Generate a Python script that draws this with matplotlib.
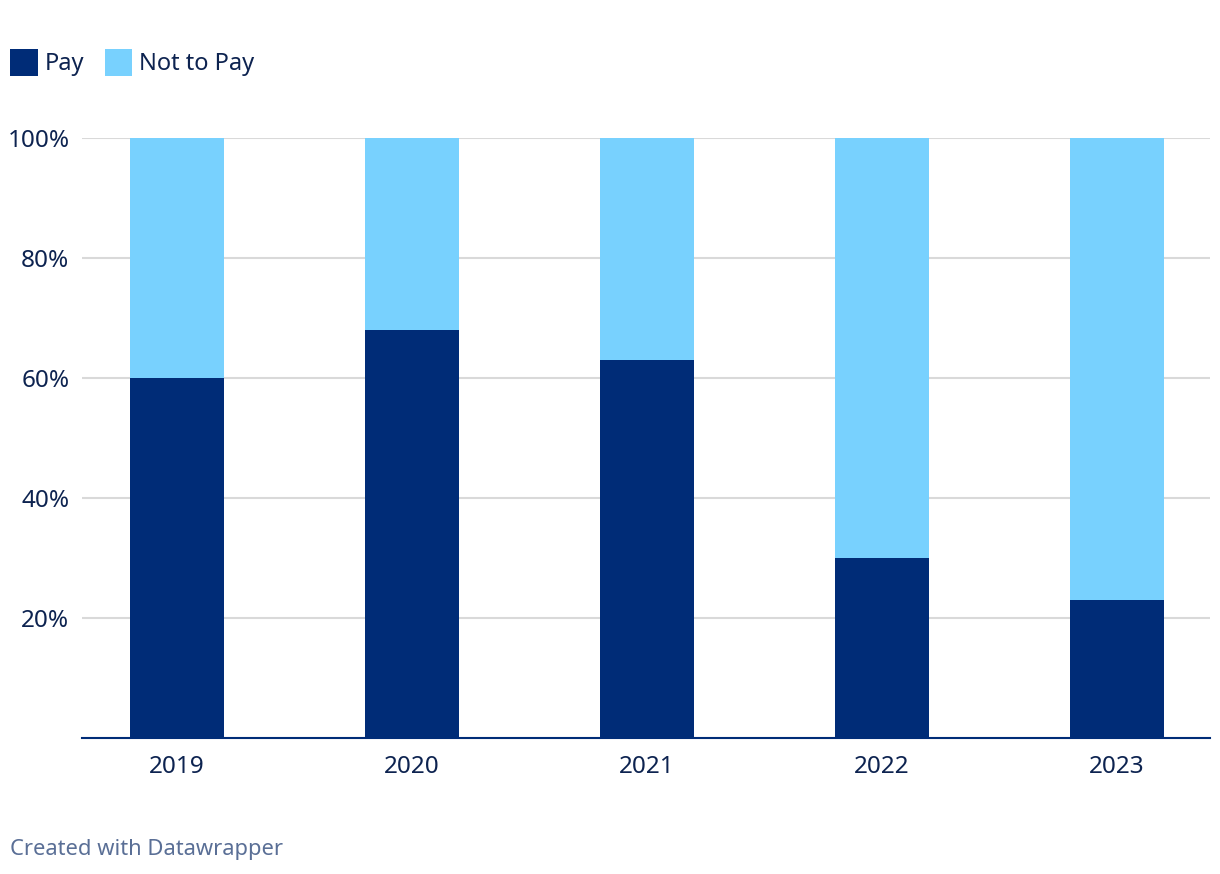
import matplotlib.pyplot as plt
import numpy as np

# Data
years = ['2019', '2020', '2021', '2022', '2023']
pay = [60, 68, 63, 30, 23]
not_to_pay = [40, 32, 37, 70, 77]
y_ticks = [20, 40, 60, 80, 100]

# Colours
dark_blue = '#002c77'
light_blue = '#78d1fe'
text_color = '#0d2350'
grid_color = '#d9d9d9'
footer_color = '#5a6f96'

plt.rcParams['font.family'] = ['Noto Sans', 'DejaVu Sans']

fig = plt.figure(figsize=(12.2, 8.74), dpi=100)
ax = fig.add_axes([82 / 1220, 136 / 874, 1128 / 1220, 600 / 874])

x = np.arange(len(years))
b1 = ax.bar(x, pay, width=0.4, color=dark_blue, label='Pay', zorder=3)
b2 = ax.bar(x, not_to_pay, width=0.4, bottom=pay, color=light_blue, label='Not to Pay', zorder=3)

ax.set_xlim(-0.405, 4.395)
ax.set_ylim(0, 100)
ax.set_xticks(x)
ax.set_xticklabels(years)
ax.set_yticks(y_ticks)
ax.set_yticklabels([f'{v}%' for v in y_ticks])
ax.tick_params(axis='both', length=0, labelsize=17.5, colors=text_color)
ax.tick_params(axis='y', pad=9)
ax.tick_params(axis='x', pad=12)

for v in y_ticks:
    ax.axhline(v, color=grid_color, lw=1.5, zorder=1)

for s in ['top', 'right', 'left']:
    ax.spines[s].set_visible(False)
ax.spines['bottom'].set_color(dark_blue)
ax.spines['bottom'].set_linewidth(1.5)
ax.spines['bottom'].set_zorder(4)

# Legend
fig.legend(handles=[b1, b2], loc='upper left', bbox_to_anchor=(10 / 1220, 1 - 49 / 874),
           ncol=2, frameon=False, fontsize=17, labelcolor=text_color,
           handlelength=1.18, handleheight=1.4, handletextpad=0.3,
           columnspacing=0.85, borderpad=0, borderaxespad=0)

# Footer
fig.text(10 / 1220, 1 - 850 / 874, 'Created with Datawrapper', fontsize=15.8,
         color=footer_color, va='center', ha='left')

fig.savefig('out.png', dpi=100)
